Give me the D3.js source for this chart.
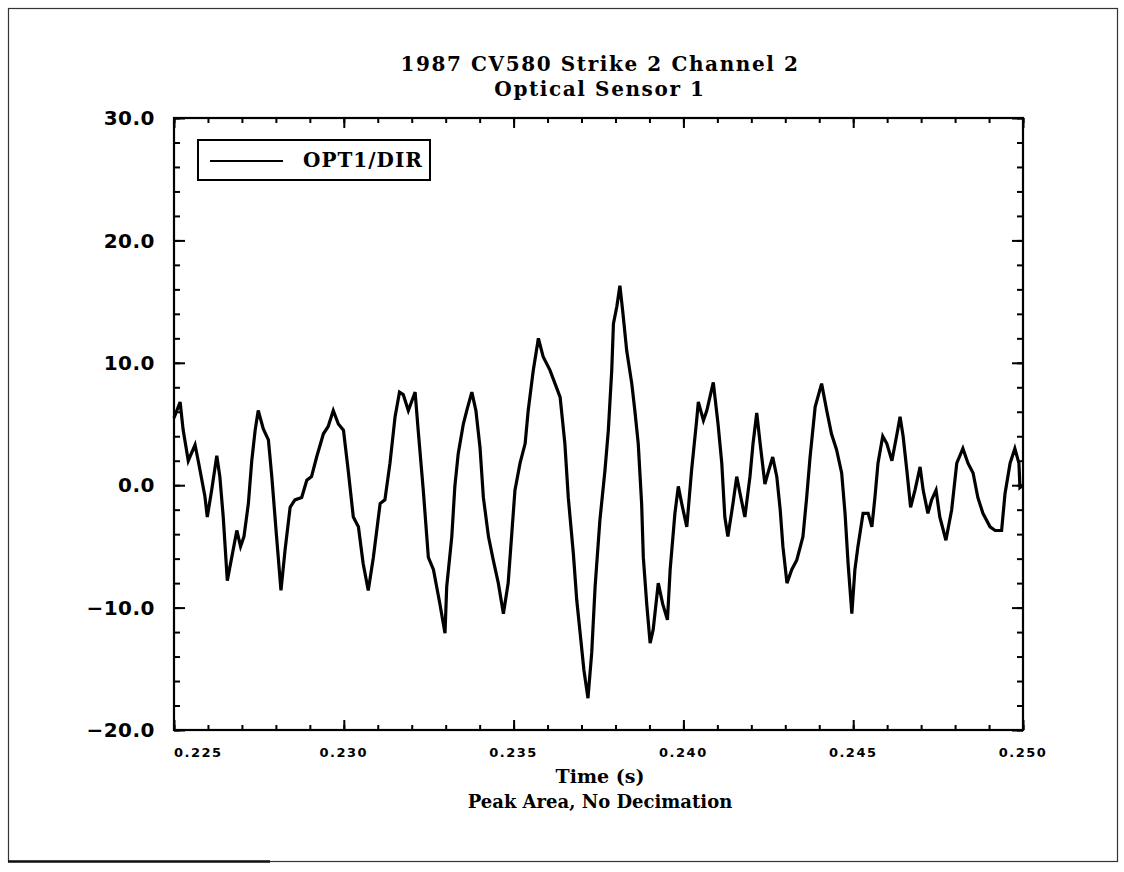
<!DOCTYPE html>
<html>
<head>
<meta charset="utf-8">
<script src="https://cdn.jsdelivr.net/npm/d3@7"></script>
<style>
  body { margin: 0; background: #fff; }
  svg { display: block; }
  .title { font-family: "DejaVu Serif", serif; font-weight: bold; font-size: 20px; }
  .ylab { font-family: "DejaVu Sans", sans-serif; font-weight: bold; font-size: 20px; }
  .xlab { font-family: "DejaVu Sans", sans-serif; font-weight: bold; font-size: 13px; }
</style>
</head>
<body>
<div id="chart"></div>
<script>
// the trace: time (s) and OPT1/DIR value
var timeS = [
  0.22500, 0.22518, 0.22527, 0.22542, 0.22562, 0.22572, 0.22591, 0.22598, 0.22611, 0.22626,
  0.22635, 0.22645, 0.22657, 0.22670, 0.22685, 0.22696, 0.22706, 0.22719, 0.22729, 0.22739,
  0.22748, 0.22763, 0.22778, 0.22788, 0.22802, 0.22815, 0.22827, 0.22842, 0.22856, 0.22876,
  0.22891, 0.22905, 0.22920, 0.22940, 0.22954, 0.22969, 0.22984, 0.22999, 0.23013, 0.23028,
  0.23043, 0.23057, 0.23072, 0.23087, 0.23107, 0.23121, 0.23136, 0.23151, 0.23164, 0.23175,
  0.23190, 0.23210, 0.23219, 0.23234, 0.23249, 0.23264, 0.23283, 0.23298, 0.23303, 0.23318,
  0.23327, 0.23337, 0.23352, 0.23362, 0.23377, 0.23389, 0.23401, 0.23411, 0.23426, 0.23440,
  0.23455, 0.23470, 0.23484, 0.23494, 0.23504, 0.23519, 0.23534, 0.23543, 0.23558, 0.23573,
  0.23587, 0.23607, 0.23622, 0.23637, 0.23651, 0.23661, 0.23676, 0.23686, 0.23696, 0.23707,
  0.23719, 0.23730, 0.23740, 0.23754, 0.23769, 0.23779, 0.23789, 0.23794, 0.23804, 0.23813,
  0.23821, 0.23833, 0.23848, 0.23857, 0.23867, 0.23877, 0.23882, 0.23892, 0.23902, 0.23911,
  0.23926, 0.23939, 0.23953, 0.23961, 0.23975, 0.23985, 0.23995, 0.24010, 0.24024, 0.24039,
  0.24044, 0.24059, 0.24069, 0.24088, 0.24102, 0.24113, 0.24122, 0.24131, 0.24146, 0.24157,
  0.24167, 0.24181, 0.24196, 0.24205, 0.24216, 0.24226, 0.24240, 0.24249, 0.24263, 0.24275,
  0.24285, 0.24293, 0.24305, 0.24319, 0.24334, 0.24352, 0.24363, 0.24373, 0.24388, 0.24407,
  0.24422, 0.24436, 0.24451, 0.24466, 0.24476, 0.24485, 0.24496, 0.24505, 0.24514, 0.24529,
  0.24544, 0.24555, 0.24564, 0.24573, 0.24587, 0.24599, 0.24614, 0.24629, 0.24638, 0.24647,
  0.24658, 0.24669, 0.24682, 0.24697, 0.24706, 0.24720, 0.24731, 0.24744, 0.24755, 0.24773,
  0.24790, 0.24805, 0.24823, 0.24838, 0.24853, 0.24867, 0.24882, 0.24903, 0.24918, 0.24937,
  0.24947, 0.24962, 0.24976, 0.24988, 0.24991, 0.25000
];
var optVals = [
  5.5, 6.8, 4.5, 2.0, 3.3, 1.9, -0.9, -2.6, -0.4, 2.4,
  0.7, -2.6, -7.8, -5.9, -3.7, -5.0, -4.2, -1.5, 2.0, 4.5,
  6.1, 4.6, 3.7, 0.7, -4.2, -8.6, -5.3, -1.8, -1.2, -1.0,
  0.4, 0.7, 2.3, 4.2, 4.8, 6.1, 5.0, 4.5, 1.2, -2.6,
  -3.4, -6.4, -8.6, -5.9, -1.5, -1.2, 1.8, 5.6, 7.6, 7.4,
  6.1, 7.6, 4.5, -0.4, -5.9, -6.9, -9.7, -12.1, -8.3, -4.2,
  -0.1, 2.6, 5.0, 6.1, 7.6, 6.1, 3.1, -1.0, -4.2, -6.1,
  -8.0, -10.5, -8.0, -4.2, -0.4, 1.8, 3.4, 6.1, 9.4, 12.0,
  10.5, 9.4, 8.3, 7.2, 3.4, -1.0, -5.6, -9.4, -12.1, -15.1,
  -17.4, -13.7, -8.3, -2.9, 1.2, 4.5, 9.4, 13.2, 14.6, 16.3,
  14.3, 11.0, 8.3, 6.1, 3.4, -1.5, -5.9, -9.7, -12.9, -11.8,
  -8.0, -9.7, -11.0, -6.9, -2.3, -0.1, -1.5, -3.4, 1.2, 5.3,
  6.8, 5.3, 6.1, 8.4, 5.0, 1.8, -2.6, -4.2, -1.5, 0.7,
  -0.7, -2.6, 0.7, 3.4, 5.9, 3.4, 0.1, 1.0, 2.3, 0.7,
  -2.0, -5.0, -8.0, -6.9, -6.1, -4.2, -1.0, 2.3, 6.4, 8.3,
  6.1, 4.2, 2.9, 1.0, -2.3, -6.4, -10.5, -6.9, -5.0, -2.3,
  -2.3, -3.4, -1.0, 1.8, 4.0, 3.4, 2.0, 4.2, 5.6, 4.0,
  1.2, -1.8, -0.4, 1.5, -0.4, -2.3, -1.2, -0.4, -2.6, -4.5,
  -2.0, 1.8, 3.0, 1.8, 1.0, -1.0, -2.3, -3.4, -3.7, -3.7,
  -0.7, 1.8, 3.0, 1.8, -0.2, 0.0
];

var xTickVals = [0.225, 0.230, 0.235, 0.240, 0.245, 0.250];
var xTickLabels = ["0.225", "0.230", "0.235", "0.240", "0.245", "0.250"];
var yTickVals = [-20, -10, 0, 10, 20, 30];
var yTickLabels = ["\u221220.0", "\u221210.0", "0.0", "10.0", "20.0", "30.0"];

var titleLines = ["1987 CV580 Strike 2 Channel 2", "Optical Sensor 1"];
var xTitle = "Time (s)";
var subTitle = "Peak Area, No Decimation";
var seriesName = "OPT1/DIR";

// page + plot box
var W = 1124, H = 872;
var plot = {left: 174, top: 118, right: 1023, bottom: 730};

var svg = d3.select("#chart").append("svg")
    .attr("width", W)
    .attr("height", H);

// outer frame
svg.append("rect")
    .attr("x", 8.5).attr("y", 8.5)
    .attr("width", 1109).attr("height", 853)
    .attr("fill", "none")
    .attr("stroke", "#333")
    .attr("stroke-width", 1.2);
svg.append("line")
    .attr("x1", 8).attr("x2", 270)
    .attr("y1", 861.5).attr("y2", 861.5)
    .attr("stroke", "#111").attr("stroke-width", 2.5);

var x = d3.scaleLinear().domain([0.225, 0.250]).range([plot.left, plot.right]);
var y = d3.scaleLinear().domain([-20, 30]).range([plot.bottom, plot.top]);

var data = timeS.map(function(t, i) { return {t: t, v: optVals[i]}; });

// titles
svg.selectAll(".title-line")
    .data(titleLines)
  .enter().append("text")
    .attr("class", "title")
    .attr("x", 600)
    .attr("y", function(d, i) { return 71 + i * 25; })
    .attr("text-anchor", "middle")
    .attr("letter-spacing", 1.6)
    .text(function(d) { return d; });

// minor / major tick positions
var xMinor = d3.range(0, 26).map(function(i) { return 0.225 + i * 0.001; });
var yMinor = d3.range(0, 26).map(function(i) { return -20 + i * 2; });

function styleAxis(g) {
  g.selectAll("path.domain").remove();
  g.selectAll("line").attr("stroke", "#000").attr("stroke-width", 2);
}

// ticks on all four sides, pointing inward
svg.append("g").attr("transform", "translate(0," + plot.bottom + ")")
    .call(d3.axisBottom(x).tickValues(xMinor).tickSize(-5).tickFormat("")).call(styleAxis);
svg.append("g").attr("transform", "translate(0," + plot.bottom + ")")
    .call(d3.axisBottom(x).tickValues(xTickVals).tickSize(-10).tickFormat("")).call(styleAxis);
svg.append("g").attr("transform", "translate(0," + plot.top + ")")
    .call(d3.axisTop(x).tickValues(xMinor).tickSize(-5).tickFormat("")).call(styleAxis);
svg.append("g").attr("transform", "translate(0," + plot.top + ")")
    .call(d3.axisTop(x).tickValues(xTickVals).tickSize(-10).tickFormat("")).call(styleAxis);
svg.append("g").attr("transform", "translate(" + plot.left + ",0)")
    .call(d3.axisLeft(y).tickValues(yMinor).tickSize(-6).tickFormat("")).call(styleAxis);
svg.append("g").attr("transform", "translate(" + plot.left + ",0)")
    .call(d3.axisLeft(y).tickValues(yTickVals).tickSize(-11).tickFormat("")).call(styleAxis);
svg.append("g").attr("transform", "translate(" + plot.right + ",0)")
    .call(d3.axisRight(y).tickValues(yMinor).tickSize(-6).tickFormat("")).call(styleAxis);
svg.append("g").attr("transform", "translate(" + plot.right + ",0)")
    .call(d3.axisRight(y).tickValues(yTickVals).tickSize(-11).tickFormat("")).call(styleAxis);

// plot frame
svg.append("rect")
    .attr("x", plot.left).attr("y", plot.top)
    .attr("width", plot.right - plot.left)
    .attr("height", plot.bottom - plot.top)
    .attr("fill", "none")
    .attr("stroke", "#000")
    .attr("stroke-width", 2.2);

// tick labels
svg.selectAll(".ylab")
    .data(yTickVals)
  .enter().append("text")
    .attr("class", "ylab")
    .attr("x", 155)
    .attr("y", function(d) { return y(d); })
    .attr("dy", "0.36em")
    .attr("text-anchor", "end")
    .attr("letter-spacing", 0.5)
    .text(function(d, i) { return yTickLabels[i]; });

svg.selectAll(".xlab")
    .data(xTickVals)
  .enter().append("text")
    .attr("class", "xlab")
    .attr("x", function(d) { return x(d); })
    .attr("y", 757)
    .attr("text-anchor", function(d, i) { return i === 0 ? "start" : "middle"; })
    .attr("letter-spacing", 1.5)
    .text(function(d, i) { return xTickLabels[i]; });

// axis title + subtitle (style() so it wins over the css class)
svg.append("text")
    .attr("class", "title")
    .attr("x", 600).attr("y", 783)
    .attr("text-anchor", "middle")
    .style("font-size", "19px")
    .text(xTitle);
svg.append("text")
    .attr("class", "title")
    .attr("x", 600).attr("y", 808)
    .attr("text-anchor", "middle")
    .style("font-size", "18px")
    .text(subTitle);

// the trace
var valueline = d3.line()
    .x(function(d) { return x(d.t); })
    .y(function(d) { return y(d.v); });

svg.append("path")
    .datum(data)
    .attr("fill", "none")
    .attr("stroke", "#000")
    .attr("stroke-width", 3.2)
    .attr("stroke-linejoin", "miter")
    .attr("d", valueline);

// legend
var legend = svg.append("g");
legend.append("rect")
    .attr("x", 198).attr("y", 140)
    .attr("width", 232).attr("height", 40)
    .attr("fill", "#fff")
    .attr("stroke", "#000")
    .attr("stroke-width", 2);
legend.append("line")
    .attr("x1", 210).attr("x2", 283)
    .attr("y1", 161).attr("y2", 161)
    .attr("stroke", "#000")
    .attr("stroke-width", 2);
legend.append("text")
    .attr("class", "title")
    .attr("x", 303).attr("y", 167)
    .attr("letter-spacing", 1)
    .text(seriesName);
</script>
</body>
</html>
